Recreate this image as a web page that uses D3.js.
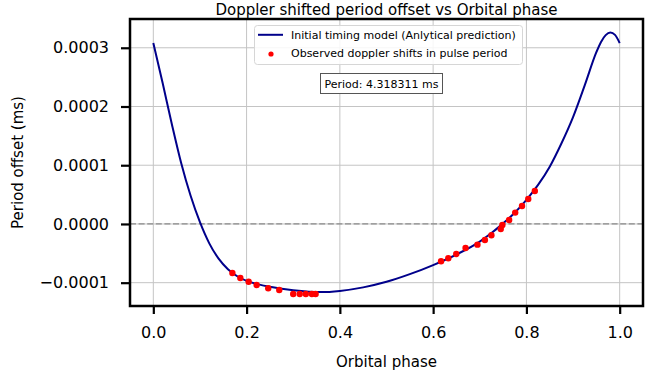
<!DOCTYPE html>
<html>
<head>
<meta charset="utf-8">
<script src="https://cdn.jsdelivr.net/npm/d3@7"></script>
<style>
  html, body { margin: 0; padding: 0; background: #fff; }
  svg { display: block; font-family: "DejaVu Sans", sans-serif; }
</style>
</head>
<body>
<svg id="chart" width="657" height="371"></svg>
<script>
// ---- Data ----
// Model curve (period offset in ms), sampled along orbital phase
const modelPhase = [0, 0.02, 0.04, 0.06, 0.08, 0.10, 0.12, 0.14, 0.16, 0.18, 0.20, 0.22, 0.25, 0.30, 0.36, 0.40, 0.45, 0.50, 0.55, 0.60, 0.65, 0.70, 0.725, 0.75, 0.775, 0.80, 0.825, 0.85, 0.875, 0.90, 0.925, 0.95, 0.96, 0.97, 0.98, 0.99, 1.00];
const modelOffset = [3.08e-4, 2.40e-4, 1.69e-4, 1.03e-4, 0.48e-4, 0.03e-4, -0.33e-4, -0.59e-4, -0.77e-4, -0.89e-4, -0.97e-4, -1.02e-4, -1.068e-4, -1.127e-4, -1.16e-4, -1.14e-4, -1.08e-4, -0.985e-4, -0.855e-4, -0.70e-4, -0.52e-4, -0.30e-4, -0.155e-4, 0.01e-4, 0.19e-4, 0.41e-4, 0.665e-4, 0.975e-4, 1.37e-4, 1.82e-4, 2.36e-4, 2.925e-4, 3.10e-4, 3.215e-4, 3.26e-4, 3.22e-4, 3.08e-4];

// Observed doppler shifts in pulse period
const obsPhase = [0.1695, 0.1866, 0.2044, 0.2215, 0.2464, 0.270, 0.300, 0.314, 0.327, 0.340, 0.348, 0.617, 0.6325, 0.6496, 0.6695, 0.695, 0.711, 0.725, 0.745, 0.7485, 0.763, 0.776, 0.7906, 0.804, 0.818];
const obsOffset = [-0.835e-4, -0.92e-4, -0.983e-4, -1.04e-4, -1.096e-4, -1.124e-4, -1.193e-4, -1.193e-4, -1.193e-4, -1.193e-4, -1.193e-4, -0.636e-4, -0.585e-4, -0.511e-4, -0.409e-4, -0.352e-4, -0.273e-4, -0.193e-4, -0.085e-4, -0.017e-4, 0.068e-4, 0.193e-4, 0.307e-4, 0.426e-4, 0.562e-4];

const xTicks = [0.0, 0.2, 0.4, 0.6, 0.8, 1.0];
const xTickLabels = ["0.0", "0.2", "0.4", "0.6", "0.8", "1.0"];
const yTicks = [-0.0001, 0.0, 0.0001, 0.0002, 0.0003];
const yTickLabels = ["\u22120.0001", "0.0000", "0.0001", "0.0002", "0.0003"];

const titleText = "Doppler shifted period offset vs Orbital phase";
const xLabelText = "Orbital phase";
const yLabelText = "Period offset (ms)";
const legendLabels = ["Initial timing model (Anlytical prediction)", "Observed doppler shifts in pulse period"];
const periodText = "Period: 4.318311 ms";

// ---- Layout ----
const svg = d3.select("#chart");
const L = 130, T = 19, R = 643, B = 306;

const x = d3.scaleLinear().domain([-0.05, 1.05]).range([L, R]);
const y = d3.scaleLinear().domain([-0.0001397, 0.000349]).range([B, T]);

// Grid
const grid = svg.append("g");
grid.selectAll("line.gx").data(xTicks).enter().append("line")
  .attr("x1", d => x(d)).attr("x2", d => x(d)).attr("y1", T).attr("y2", B)
  .attr("stroke", "#c4c4c4").attr("stroke-width", 1);
grid.selectAll("line.gy").data(yTicks).enter().append("line")
  .attr("x1", L).attr("x2", R).attr("y1", d => y(d)).attr("y2", d => y(d))
  .attr("stroke", "#c4c4c4").attr("stroke-width", 1);

// Zero dashed line
svg.append("line")
  .attr("x1", L).attr("x2", R).attr("y1", y(0)).attr("y2", y(0))
  .attr("stroke", "#8a8a8a").attr("stroke-width", 1.2).attr("stroke-dasharray", "6,2.6");

// Model curve
const modelData = modelPhase.map((p, i) => [p, modelOffset[i]]);
svg.append("path")
  .datum(modelData)
  .attr("fill", "none")
  .attr("stroke", "#00008b")
  .attr("stroke-width", 2)
  .attr("d", d3.line().x(d => x(d[0])).y(d => y(d[1])).curve(d3.curveMonotoneX));

// Observed points
svg.append("g").selectAll("circle").data(obsPhase.map((p, i) => [p, obsOffset[i]])).enter()
  .append("circle")
  .attr("cx", d => x(d[0])).attr("cy", d => y(d[1])).attr("r", 3.2)
  .attr("fill", "#ff0000");

// Axes
const xAxis = d3.axisBottom(x).tickValues(xTicks).tickFormat((d, i) => xTickLabels[i]).tickSize(8).tickPadding(13);
const yAxis = d3.axisLeft(y).tickValues(yTicks).tickFormat((d, i) => yTickLabels[i]).tickSize(9).tickPadding(12);

const gx = svg.append("g").attr("transform", `translate(0,${B})`).call(xAxis);
const gy = svg.append("g").attr("transform", `translate(${L},0)`).call(yAxis);
[gx, gy].forEach(g => {
  g.select(".domain").remove();
  g.selectAll(".tick line").attr("stroke", "#000").attr("stroke-width", 2.2);
  g.selectAll(".tick text").attr("fill", "#000").style("font-size", "16px").style("font-family", "DejaVu Sans");
});

// Frame
svg.append("rect")
  .attr("x", L).attr("y", T).attr("width", R - L).attr("height", B - T)
  .attr("fill", "none").attr("stroke", "#000").attr("stroke-width", 2.5);

// Title and labels
svg.append("text").attr("x", (L + R) / 2).attr("y", 15).attr("text-anchor", "middle")
  .style("font-size", "15px").attr("fill", "#000").text(titleText);
svg.append("text").attr("x", (L + R) / 2).attr("y", 367).attr("text-anchor", "middle")
  .style("font-size", "15px").attr("fill", "#000").text(xLabelText);
svg.append("text").attr("transform", `translate(23,${(T + B) / 2}) rotate(-90)`).attr("text-anchor", "middle")
  .style("font-size", "15px").attr("fill", "#000").text(yLabelText);

// Legend
const lg = svg.append("g");
lg.append("rect").attr("x", 254.5).attr("y", 25.5).attr("width", 268).attr("height", 39).attr("rx", 3)
  .attr("fill", "#fff").attr("fill-opacity", 0.85).attr("stroke", "#d6d6d6").attr("stroke-width", 1);
lg.append("line").attr("x1", 258).attr("x2", 283).attr("y1", 34.8).attr("y2", 34.8)
  .attr("stroke", "#00008b").attr("stroke-width", 2);
lg.append("circle").attr("cx", 271).attr("cy", 54).attr("r", 2.6).attr("fill", "#ff0000");
lg.selectAll("text.leg").data(legendLabels).enter().append("text")
  .attr("x", 291).attr("y", (d, i) => 38.8 + i * 18.5)
  .style("font-size", "11px").attr("fill", "#000").text(d => d);

// Period box
svg.append("rect").attr("x", 320.5).attr("y", 73.5).attr("width", 122).attr("height", 20)
  .attr("fill", "#fff").attr("stroke", "#555").attr("stroke-width", 1);
svg.append("text").attr("x", 381.5).attr("y", 87.5).attr("text-anchor", "middle")
  .style("font-size", "11px").attr("fill", "#000").text(periodText);
</script>
</body>
</html>
